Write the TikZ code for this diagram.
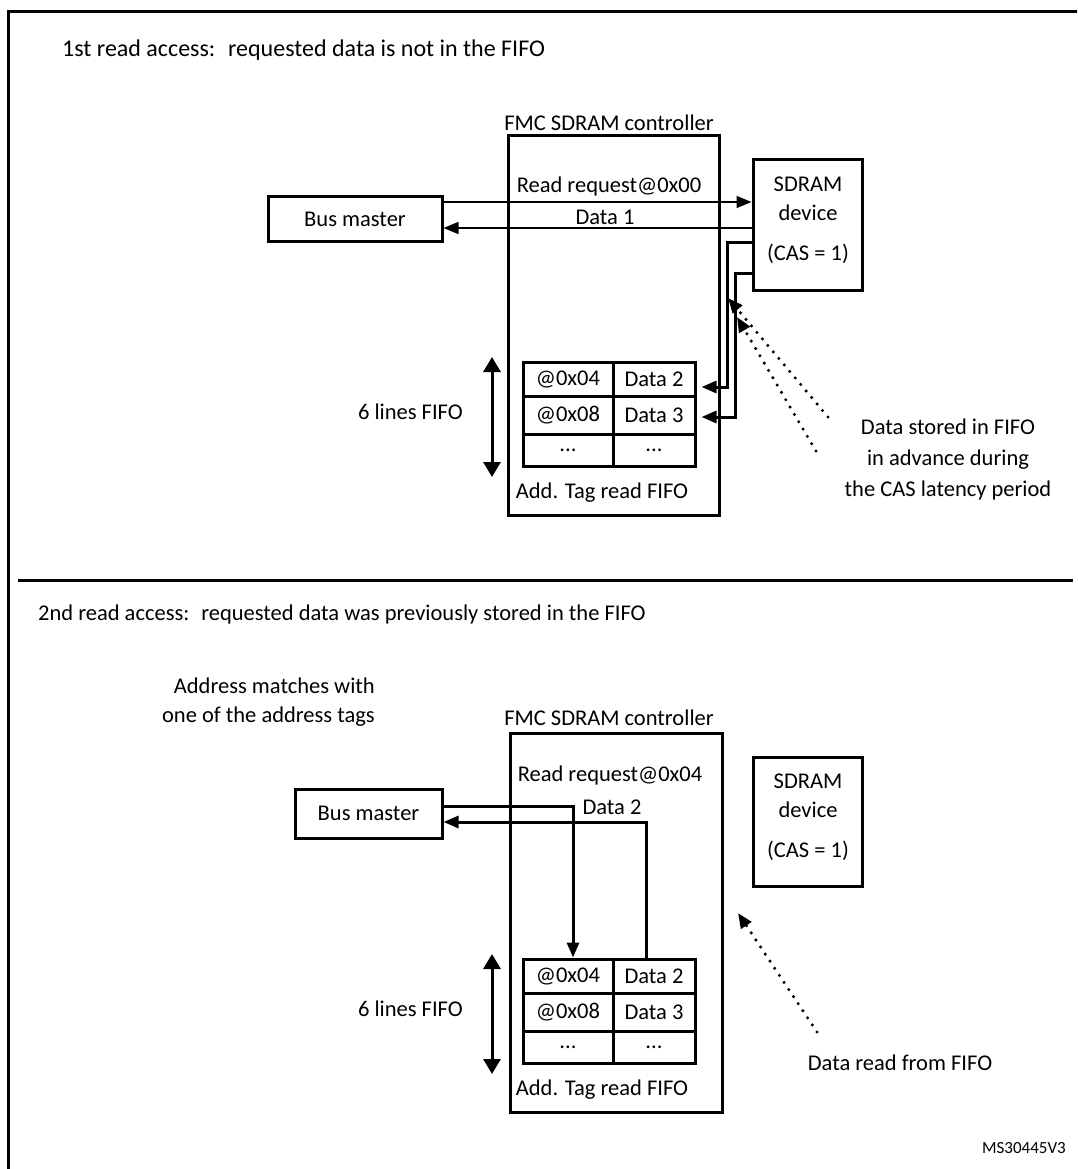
\documentclass[tikz,border=0pt]{standalone}
\usepackage{fontspec}
\setmainfont{Carlito}
\usetikzlibrary{arrows.meta}

\begin{document}
\begin{tikzpicture}[x=1pt,y=-1pt,
  font=\fontsize{22.5}{29}\selectfont,
  box/.style={draw, line width=3pt, inner sep=0pt},
  cell/.style={draw, line width=3pt, inner sep=0pt},
  note/.style={inner sep=0pt},
  wire/.style={line width=1.6pt, -{Triangle[length=15pt,width=12pt]}},
  link/.style={line width=3pt, -{Triangle[length=15pt,width=12pt]}},
  span/.style={line width=3pt, {Triangle[length=15pt,width=17pt]}-{Triangle[length=15pt,width=17pt]}},
  hint/.style={line width=3.4pt, line cap=round, dash pattern=on 0pt off 8.5pt, -{Triangle[length=15pt,width=12pt]}}]

\useasboundingbox (0,0) rectangle (1077,1169);
\clip (0,0) rectangle (1077,1169);

% frame and divider
\draw[line width=3pt] (8,1200) -- (8,12) -- (1100,12);
\draw[line width=3pt] (18,580) -- (1073,580);

% 1st read access
\node[note, anchor=west, font=\fontsize{24}{29}\selectfont] (title1) at (62,50) {1st read access:~ requested data is not in the FIFO};

\node (ctrl1) [box, minimum width=211pt, minimum height=379pt] at (613.5,325.5) {};
\node (ctrl1name) at (609,123) {FMC SDRAM controller};
\node (master1) [box, minimum width=174pt, minimum height=44pt] at (355,219) {Bus master};
\node (sdram1) [box, minimum width=109pt, minimum height=130pt] at (807.5,225) {};
\node[align=center] (sdram1txt) at (808,220) {SDRAM\\device\\[11pt](CAS = 1)};

\node (tag1a) [cell, minimum width=90pt, minimum height=34pt] at (568,379) {@0x04};
\node (dat1a) [cell, minimum width=82pt, minimum height=34pt] at (654,379) {Data 2};
\node (tag1b) [cell, minimum width=90pt, minimum height=38pt] at (568,415) {@0x08};
\node (dat1b) [cell, minimum width=82pt, minimum height=38pt] at (654,415) {Data 3};
\node (tag1c) [cell, minimum width=90pt, minimum height=32pt] at (568,450) {...};
\node (dat1c) [cell, minimum width=82pt, minimum height=32pt] at (654,450) {...};
\node (fifo1name) at (602,493) {Add. Tag read FIFO};

\node (req1) at (609,187) {Read request@0x00};
\node (data1) at (605,217) {Data 1};
\draw[wire] (master1.east |- 0,202) -- (sdram1.west |- 0,202);
\draw[wire] (sdram1.west |- 0,228) -- (master1.east |- 0,228);
\draw[link] (sdram1.west |- 0,242) -| (727,387) -- ([xshift=5pt,yshift=-8pt]dat1a.east);
\draw[link] (sdram1.west |- 0,273) -| (735,417) -- ([xshift=5pt,yshift=-2pt]dat1b.east);

\coordinate (span1top) at (492,357);
\coordinate (span1bot) at (492,477);
\draw[span] (span1top) -- (span1bot);
\node[note, anchor=east] (lines1) at (463,412) {6 lines FIFO};

\coordinate (hint1a) at (828,417);
\coordinate (hint1b) at (816,451);
\draw[hint] (hint1a) -- (728,298);
\draw[hint] (hint1b) -- (737,317);
\node[align=center, font=\fontsize{22.5}{31}\selectfont] (stored) at (948,459) {Data stored in FIFO\\in advance during\\the CAS latency period};

% 2nd read access
\node[note, anchor=west] (title2) at (38,614) {2nd read access:~ requested data was previously stored in the FIFO};
\node[note, align=right, anchor=east] (match) at (375,702) {Address matches with\\one of the address tags};

\node (ctrl2) [box, minimum width=212pt, minimum height=379pt] at (616,922.5) {};
\node (ctrl2name) at (609,718) {FMC SDRAM controller};
\node (master2) [box, minimum width=147pt, minimum height=49pt] at (368.5,813.5) {Bus master};
\node (sdram2) [box, minimum width=109pt, minimum height=129pt] at (807.5,821.5) {};
\node[align=center] (sdram2txt) at (808,817) {SDRAM\\device\\[11pt](CAS = 1)};

\node (tag2a) [cell, minimum width=90pt, minimum height=34pt] at (568,976) {@0x04};
\node (dat2a) [cell, minimum width=82pt, minimum height=34pt] at (654,976) {Data 2};
\node (tag2b) [cell, minimum width=90pt, minimum height=38pt] at (568,1012) {@0x08};
\node (dat2b) [cell, minimum width=82pt, minimum height=38pt] at (654,1012) {Data 3};
\node (tag2c) [cell, minimum width=90pt, minimum height=32pt] at (568,1047) {...};
\node (dat2c) [cell, minimum width=82pt, minimum height=32pt] at (654,1047) {...};
\node (fifo2name) at (602,1090) {Add. Tag read FIFO};

\node (req2) at (610,775) {Read request@0x04};
\node (data2) at (612,807) {Data 2};
\draw[link] (master2.east |- 0,806) -| ([xshift=5pt]tag2a.north);
\draw[link] ([xshift=-8pt]dat2a.north) |- (master2.east |- 0,822);

\coordinate (span2top) at (492,954);
\coordinate (span2bot) at (492,1074);
\draw[span] (span2top) -- (span2bot);
\node[note, anchor=east] (lines2) at (463,1009) {6 lines FIFO};

\coordinate (hint2) at (817,1032);
\draw[hint] (hint2) -- (738,913);
\node (readfifo) at (900,1063) {Data read from FIFO};

\node[note, anchor=east, font=\fontsize{17}{20}\selectfont] (code) at (1066,1148) {MS30445V3};

\end{tikzpicture}
\end{document}
